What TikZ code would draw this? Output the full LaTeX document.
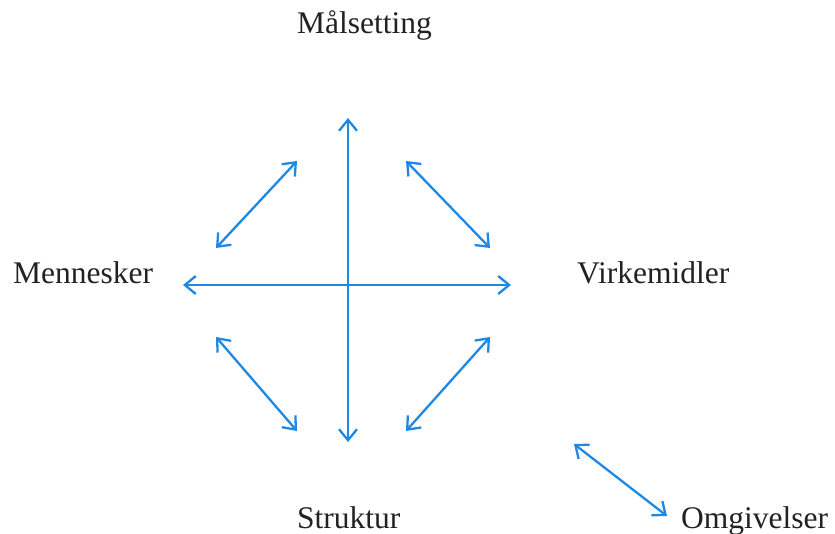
\documentclass[tikz,border=0pt]{standalone}
\usepackage{fontspec}
\setmainfont{Liberation Serif}
\usetikzlibrary{arrows.meta}
\definecolor{arrowblue}{RGB}{30,136,229}
\definecolor{txt}{RGB}{34,34,34}
\tikzset{
  lbl/.style={anchor=base west, inner sep=0pt, text=txt, font=\fontsize{31.5}{36}\selectfont},
  dbl/.style={draw=arrowblue, line width=2.3pt, {Straight Barb[length=11pt,width=18pt,line width=2.3pt]}-{Straight Barb[length=11pt,width=18pt,line width=2.3pt]}}
}
\begin{document}
\begin{tikzpicture}[x=1pt,y=-1pt]
\useasboundingbox (0,0) rectangle (835,533);
\node[lbl] (mal) at (297,33) {Målsetting};
\node[lbl] (men) at (13,283) {Mennesker};
\node[lbl] (vir) at (577,283) {Virkemidler};
\node[lbl] (str) at (297,528) {Struktur};
\node[lbl] (omg) at (681,528) {Omgivelser};
\coordinate (vt) at (348,118);
\coordinate (vb) at (348,442);
\coordinate (hl) at (183,285);
\coordinate (hr) at (511,285);
\coordinate (ula) at (216,248);
\coordinate (ulb) at (297,161);
\coordinate (ura) at (406,161);
\coordinate (urb) at (490,248);
\coordinate (lla) at (216,337);
\coordinate (llb) at (297,431);
\coordinate (lra) at (406,431);
\coordinate (lrb) at (490,337);
\coordinate (oa) at (574,444);
\coordinate (ob) at (667,516);
\draw[dbl] (vt) -- (vb);
\draw[dbl] (hl) -- (hr);
\draw[dbl] (ula) -- (ulb);
\draw[dbl] (ura) -- (urb);
\draw[dbl] (lla) -- (llb);
\draw[dbl] (lra) -- (lrb);
\draw[dbl] (oa) -- (ob);
\end{tikzpicture}
\end{document}
